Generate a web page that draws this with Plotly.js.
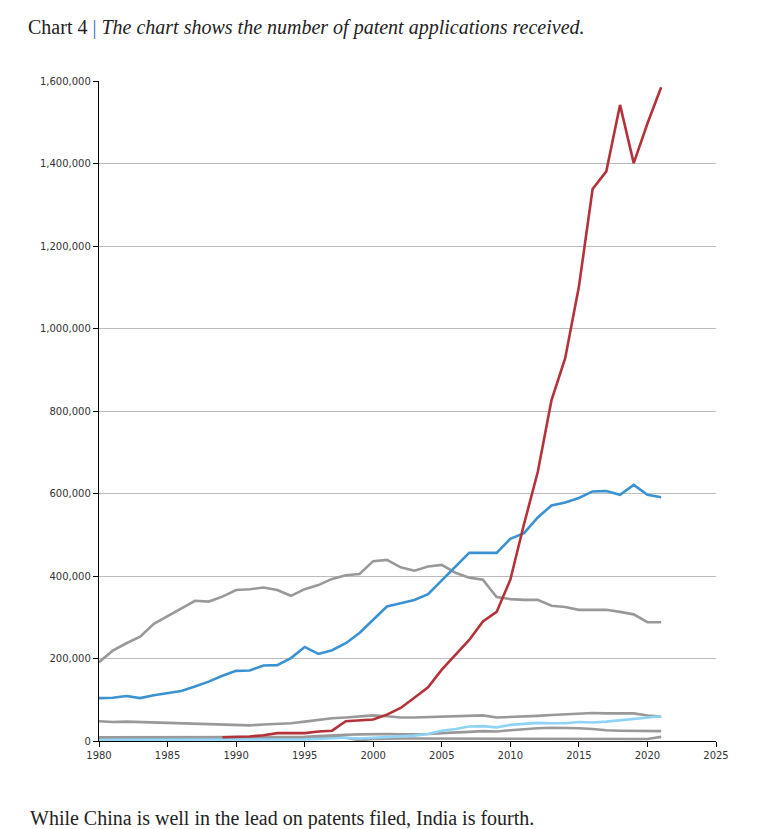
<!DOCTYPE html>
<html>
<head>
<meta charset="utf-8">
<script src="https://cdn.plot.ly/plotly-3.0.1.min.js"></script>
<style>
html,body{margin:0;padding:0;background:#fff;}
#chart{width:766px;height:829px;}
</style>
</head>
<body>
<div id="chart"></div>
<script>
const years = [1980,1981,1982,1983,1984,1985,1986,1987,1988,1989,1990,1991,1992,1993,1994,1995,1996,1997,1998,1999,2000,2001,2002,2003,2004,2005,2006,2007,2008,2009,2010,2011,2012,2013,2014,2015,2016,2017,2018,2019,2020,2021];
const chinaYears = years.slice(9);
const china = [9000,10000,11000,14000,19000,19000,19000,23000,25000,48000,50000,52000,64000,80000,105000,130000,173000,210000,245000,290000,313000,391000,526000,652000,826000,928000,1101000,1338000,1381000,1542000,1401000,1497000,1585000];
const usa = [104000,105000,109000,104000,111000,116000,121000,132000,144000,158000,170000,171000,183000,184000,201000,228000,211000,220000,237000,262000,295000,326000,334000,342000,356000,390000,424000,456000,456000,456000,490000,504000,542000,571000,578000,589000,605000,606000,597000,621000,597000,591000];
const japan = [191000,219000,237000,253000,284000,303000,320000,340000,338000,350000,366000,368000,372000,366000,352000,368000,378000,393000,402000,405000,436000,439000,421000,413000,423000,427000,408000,396000,391000,349000,344000,342000,342000,328000,325000,318000,318000,318000,313000,307000,288000,288000];
const germany = [48000,46000,47000,46000,44000,44000,43000,41000,41000,40000,38000,38000,40000,41000,43000,47000,51000,55000,57000,59000,62000,60000,57000,57000,58000,60000,60000,61000,62000,57000,58000,59000,61000,63000,65000,66000,68000,67000,67000,67000,62000,59000];
const india = [3000,3000,3000,3000,3000,3000,3000,3000,3000,3000,3000,3000,3000,3000,3000,4000,5000,7000,8000,6000,8000,10000,11000,13000,17000,25000,29000,35000,36000,33000,39000,41000,44000,43000,43000,46000,45000,47000,50000,54000,56000,60000];
const otherA = [9000,9000,9000,9000,9000,9000,9000,9000,9000,9000,9000,9000,9000,9000,10000,10000,12000,14000,15000,16000,17000,17000,16000,16000,17000,19000,20000,22000,24000,23000,26000,29000,31000,32000,32000,31000,29000,26000,25000,25000,25000,24000];
const otherB = [6000,6000,6000,6000,6000,6000,6000,6000,6000,6000,6000,6000,6000,6000,6000,7000,8000,10000,8000,2000,5000,6000,6000,6000,6000,6000,6000,6000,6000,5000,5000,5000,5000,5000,5000,5000,5000,5000,5000,5000,5000,10000];

const grey = '#999999';
function line(name, x, y, color){
  return {type:'scatter', mode:'lines', name:name, x:x, y:y,
    line:{color:color, width:2.6}, hoverinfo:'x+y+name'};
}
const data = [
  line('Other B', years, otherB, grey),
  line('Other A', years, otherA, grey),
  line('Germany', years, germany, grey),
  line('Japan', years, japan, grey),
  line('India', years, india, '#8fd4f6'),
  line('United States', years, usa, '#3a92d2'),
  line('China', chinaYears, china, '#b4323a')
];

const layout = {
  width:766, height:829,
  margin:{l:99, r:50, t:81, b:88},
  paper_bgcolor:'#ffffff', plot_bgcolor:'#ffffff',
  showlegend:false,
  font:{family:'DejaVu Sans, sans-serif', size:10, color:'#333333'},
  title:{
    text:'Chart 4 <span style="color:#2a6ebb">|</span> <i>The chart shows the number of patent applications received.</i>',
    font:{family:'Liberation Serif, serif', size:20, color:'#222222'},
    xref:'container', yref:'container', x:28/766, xanchor:'left', y:1-27/829, yanchor:'middle'
  },
  xaxis:{
    range:[1980,2025], dtick:5, tick0:1980, showgrid:false, zeroline:false,
    showline:true, linecolor:'#000000', linewidth:1.3,
    ticks:'outside', ticklen:5, tickcolor:'#000000', tickwidth:1,
    tickfont:{family:'DejaVu Sans, sans-serif', size:10, color:'#333333'}
  },
  yaxis:{
    range:[0,1600000], dtick:200000, tickformat:',d',
    showgrid:true, gridcolor:'#bbbbbb', gridwidth:1, zeroline:false,
    showline:true, linecolor:'#000000', linewidth:1.3,
    ticks:'outside', ticklen:5, tickcolor:'#000000', tickwidth:1,
    tickfont:{family:'DejaVu Sans, sans-serif', size:10, color:'#333333'}
  },
  annotations:[{
    text:'While China is well in the lead on patents filed, India is fourth.',
    xref:'paper', yref:'paper', x:(28-99)/617, xanchor:'left',
    y:-(818-741)/660, yanchor:'middle', showarrow:false,
    font:{family:'Liberation Serif, serif', size:20, color:'#222222'}
  }]
};
Plotly.newPlot('chart', data, layout, {displayModeBar:false});
</script>
</body>
</html>
